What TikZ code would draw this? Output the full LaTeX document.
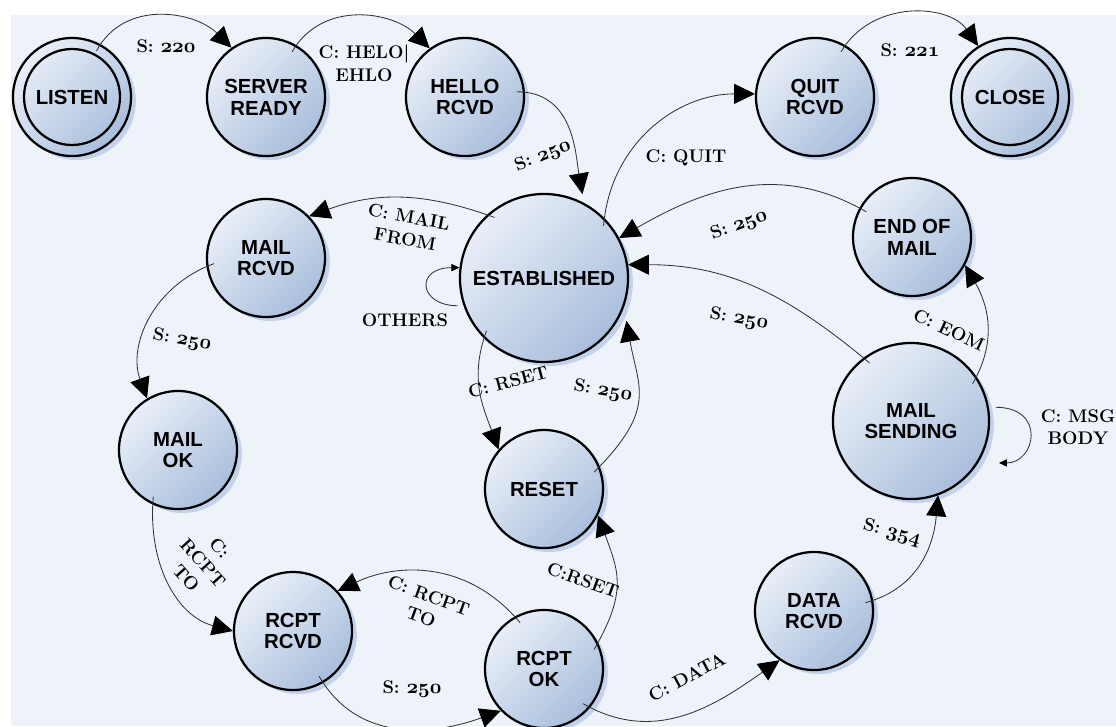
\documentclass[tikz,border=0pt]{standalone}
\usepackage{fontspec}
\setsansfont{Liberation Sans}
\usetikzlibrary{arrows.meta}
\usetikzlibrary{shadows}
\definecolor{paper}{HTML}{EEF3FA}
\definecolor{statelight}{HTML}{E9EFF8}
\definecolor{statedark}{HTML}{A9BEDC}
\definecolor{shadowblue}{HTML}{C3D2EA}
\newcommand{\statefnt}{\sffamily\bfseries\fontsize{14.5}{15.5}\selectfont}
\newcommand{\transfnt}{\bfseries\fontsize{13}{16}\selectfont}
% old style figures from the math italic font
\newcommand{\onum}[1]{{\fontsize{14.5}{16}\selectfont\boldmath$\mathnormal{#1}$}}
\tikzset{state/.style={circle, draw=black, line width=1.6pt, minimum size=2.95cm,
   inner sep=0pt, align=center, font=\statefnt,
   top color=statelight, bottom color=statedark, shading angle=45,
   drop shadow={shadow xshift=0.12cm, shadow yshift=-0.1cm, fill=shadowblue, opacity=1}},
 trans/.style={draw=black!80, line width=0.6pt,
   -{Triangle[length=0.52cm,width=0.5cm,black]}, shorten <=-0.2cm},
 loopy/.style={draw=black!80, line width=0.6pt,
   -{Triangle[length=0.2cm,width=0.18cm,black]}},
 tlabel/.style={font=\transfnt, align=center, inner sep=1pt},
 }

\begin{document}
\begin{tikzpicture}[x=0.025cm, y=0.025cm]
        \useasboundingbox (0,0) rectangle (1116,-726);
        \fill[paper] (11,-15) rectangle (1116,-726);
        % states
        \node[state] (listen) at (72,-97) {LISTEN};
        \draw[line width=1.6pt] (listen) circle[radius=48];
        \node[state] (ready) at (266,-97) {SERVER\\READY};
        \node[state] (hello) at (465,-97) {HELLO\\RCVD};
        \node[state] (quit) at (815,-97) {QUIT\\RCVD};
        \node[state] (close) at (1010,-97) {CLOSE};
        \draw[line width=1.6pt] (close) circle[radius=48];
        \node[state] (mailrcvd) at (266,-258) {MAIL\\RCVD};
        \node[state, minimum size=4.2cm] (est) at (544,-278) {ESTABLISHED};
        \node[state] (endmail) at (912,-237) {END OF\\MAIL};
        \node[state] (mailok) at (178,-450) {MAIL\\OK};
        \node[state] (reset) at (544,-489) {RESET};
        \node[state, minimum size=3.9cm] (mailsend) at (911,-421) {MAIL\\SENDING};
        \node[state] (rcptrcvd) at (293,-631) {RCPT\\RCVD};
        \node[state] (rcptok) at (544,-669) {RCPT\\OK};
        \node[state] (datarcvd) at (814,-611) {DATA\\RCVD};
        % transitions
        \draw[trans] (listen.62) to[out=62,in=135] (ready.125);
        \node[tlabel] (t220) at (166,-46) {S: \onum{220}};
        \draw[trans] (ready.60) to[out=60,in=135] (hello.126);
        \node[tlabel] (thelo) at (364,-63) {C: HELO|\\EHLO};
        \draw[trans, shorten >=0.22cm] (hello.5) to[out=0,in=100] (est.62);
        \node[tlabel, rotate=22] (t250a) at (543,-156) {S: \onum{250}};
        \draw[trans] (est.45) to[out=85,in=180] (quit.177);
        \node[tlabel] (tquit) at (686,-158) {C: QUIT};
        \draw[trans] (quit.60) to[out=60,in=125] (close.122);
        \node[tlabel] (t221) at (910,-50) {S: \onum{221}};
        \draw[trans] (est.132) to[out=160,in=20] (mailrcvd.44);
        \node[tlabel, rotate=-10] (tmail) at (407,-228) {C: MAIL\\FROM};
        \draw[loopy, shorten <=0.15cm] (est.199) to[out=180,in=180,looseness=3] (est.173);
        \node[tlabel] (tothers) at (405,-320) {OTHERS};
        \draw[trans] (mailrcvd.188) to[out=200,in=110] (mailok.121);
        \node[tlabel, rotate=-10] (t250b) at (182,-340) {S: \onum{250}};
        \draw[trans] (mailok.245) to[out=265,in=165] (rcptrcvd.180);
        \node[tlabel, rotate=-48] (trcpt1) at (203,-563) {C:\\RCPT\\TO};
        \draw[trans] (rcptrcvd.300) to[out=300,in=200] (rcptok.224);
        \node[tlabel] (t250c) at (412,-689) {S: \onum{250}};
        \draw[trans] (rcptok.119) to[out=130,in=25] (rcptrcvd.42);
        \node[tlabel, rotate=-20] (trcpt2) at (425,-606) {C: RCPT\\TO};
        \draw[trans] (rcptok.26) to[out=60,in=290,looseness=1.2] (reset.334);
        \node[tlabel, rotate=-20] (trset2) at (583,-580) {C:RSET};
        \draw[trans] (rcptok.320) to[out=330,in=215] (datarcvd.235);
        \node[tlabel, rotate=28] (tdata) at (687,-677) {C: DATA};
        \draw[trans] (datarcvd.10) to[out=15,in=265] (mailsend.290);
        \node[tlabel, rotate=-15] (t354) at (892,-533) {S: \onum{354}};
        \draw[trans] (mailsend.34) to[out=60,in=300] (endmail.332);
        \node[tlabel, rotate=-25] (teom) at (949,-330) {C: EOM};
        \draw[loopy, shorten <=0.17cm, shorten >=0.52cm] (mailsend.10) to[out=0,in=0,looseness=2.6] (mailsend.-32);
        \node[tlabel] (tmsg) at (1078,-427) {C: MSG\\BODY};
        \draw[trans] (endmail.151) to[out=150,in=30] (est.28);
        \node[tlabel, rotate=20] (t250d) at (739,-225) {S: \onum{250}};
        \draw[trans] (mailsend.127) to[out=140,in=0] (est.9);
        \node[tlabel, rotate=-10] (t250e) at (739,-319) {S: \onum{250}};
        \draw[trans] (est.225) to[out=250,in=110] (reset.139);
        \node[tlabel, rotate=15] (trset1) at (508,-382) {C: RSET};
        \draw[trans, shorten >=0.35cm] (reset.22) to[out=45,in=280,looseness=1.3] (est.340);
        \node[tlabel, rotate=-10] (t250f) at (603,-391) {S: \onum{250}};
    \end{tikzpicture}
\end{document}
